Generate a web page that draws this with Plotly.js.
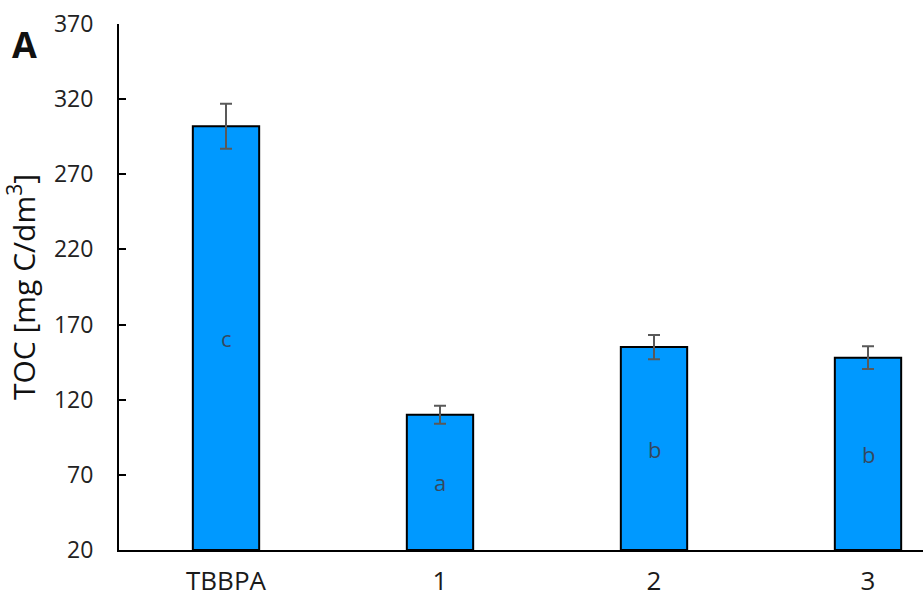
<!DOCTYPE html>
<html>
<head>
<meta charset="utf-8">
<script src="https://cdn.plot.ly/plotly-3.0.1.min.js"></script>
<style>html,body{margin:0;padding:0;background:#fff;overflow:hidden}</style>
</head>
<body>
<div id="chart" style="width:923px;height:599px"></div>
<script>
const categories = ["TBBPA", "1", "2", "3"];
const tocValues = [302, 110, 155, 148];
const tocErrors = [15, 6, 8, 7.5];
const groupLetters = ["c", "a", "b", "b"];
const yTickValues = [20, 70, 120, 170, 220, 270, 320, 370];
const yBase = 20;

const W = 923, H = 599;
const mL = 119, mR = 0, mT = 24, mB = 49;
const plotW = W - mL - mR, plotH = H - mT - mB;

const trace = {
  type: "bar",
  x: categories,
  y: tocValues.map(v => v - yBase),
  base: yBase,
  width: 0.31,
  marker: { color: "#0099FF", line: { color: "#000000", width: 2 } },
  error_y: { type: "data", array: tocErrors, visible: true, color: "#595959", thickness: 2, width: 6 },
  hoverinfo: "x+y"
};

const letterAnnotations = categories.map((c, i) => ({
  text: groupLetters[i],
  x: c, y: (tocValues[i] + yBase) / 2,
  xref: "x", yref: "y",
  showarrow: false,
  xanchor: "center", yanchor: "middle",
  font: { family: "Open Sans, sans-serif", size: 22, color: "#34495F" }
}));

const layout = {
  width: W, height: H,
  margin: { l: mL, r: mR, t: mT, b: mB, pad: 0 },
  paper_bgcolor: "#ffffff",
  plot_bgcolor: "#ffffff",
  showlegend: false,
  font: { family: "Open Sans, sans-serif", color: "#1a1a1a" },
  xaxis: {
    type: "category",
    range: [-0.5, (plotW / 214) - 0.5],
    showline: true, linecolor: "#000000", linewidth: 2,
    ticks: "", showgrid: false, zeroline: false,
    tickfont: { size: 26, color: "#1a1a1a" },
    ticklabelstandoff: 7
  },
  yaxis: {
    range: [20, 370],
    tickvals: yTickValues,
    showline: true, linecolor: "#000000", linewidth: 2,
    ticks: "inside", ticklen: 7, tickwidth: 2, tickcolor: "#000000",
    showgrid: false, zeroline: false,
    tickfont: { size: 23, color: "#222222" },
    ticklabelstandoff: 19,
    title: { text: "TOC [mg C/dm<sup>3</sup>]", font: { size: 30, color: "#111111" }, standoff: 12 }
  },
  annotations: letterAnnotations.concat([{
    text: "<b>A</b>",
    xref: "paper", yref: "paper",
    x: (24 - mL) / plotW, y: (H - mB - 45) / plotH,
    xanchor: "center", yanchor: "middle",
    showarrow: false,
    font: { family: "Open Sans, sans-serif", size: 36, color: "#111111" }
  }])
};

Plotly.newPlot("chart", [trace], layout, { displayModeBar: false, staticPlot: true });
</script>
</body>
</html>
